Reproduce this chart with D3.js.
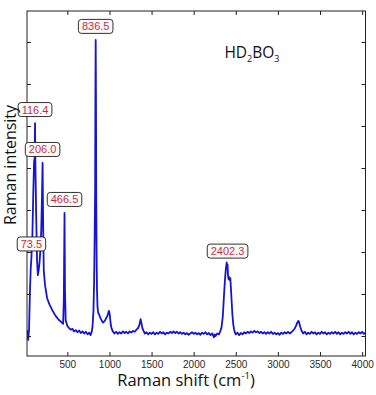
<!DOCTYPE html>
<html>
<head>
<meta charset="utf-8">
<script src="https://cdn.jsdelivr.net/npm/d3@7"></script>
<style>
  body { margin: 0; background: #fff; }
  svg { display: block; }
</style>
</head>
<body>
<svg id="chart"></svg>
<script>
var WIDTH = 376;
var HEIGHT = 395;

// Raman shift (cm-1) and intensity (arb. units)
var shift = [
  20, 35, 45, 55, 65, 73.5, 85, 95, 105, 112, 116.4, 120, 130, 140, 150, 160, 170, 180, 190, 198,
  206, 212, 220, 235, 260, 290, 320, 360, 400, 430, 450, 458, 466.5, 472, 480,
  500, 520, 540, 560, 580, 600, 620, 640, 660, 680, 700, 720, 740, 760, 775, 790,
  800, 810, 818, 825, 830, 833, 836.5, 840, 843, 848, 852, 858, 865, 875, 885, 895, 905, 915, 925,
  935, 945, 955, 965, 975, 985, 993, 1000, 1008, 1015, 1025, 1040, 1060, 1080, 1100, 1120, 1140,
  1160, 1180, 1200, 1220, 1240, 1260, 1280, 1300, 1320, 1340, 1355, 1370, 1380, 1392, 1405, 1420,
  1440, 1460, 1480, 1500, 1520, 1540, 1560, 1580, 1600, 1620, 1640, 1660, 1680, 1700, 1720, 1740,
  1760, 1780, 1800, 1820, 1840, 1860, 1880, 1900, 1920, 1940, 1960, 1980, 2000, 2020, 2040, 2060,
  2080, 2100, 2120, 2140, 2160, 2180, 2200, 2220, 2240, 2250, 2260, 2280, 2300, 2315, 2330, 2345,
  2358, 2370, 2382, 2392, 2397, 2402.3, 2407, 2415, 2422, 2428, 2435, 2442, 2450, 2460, 2470, 2480,
  2490, 2500, 2520, 2540, 2560, 2580, 2600, 2620, 2640, 2660, 2680, 2700, 2720, 2740, 2760, 2780,
  2800, 2820, 2840, 2860, 2880, 2900, 2920, 2940, 2960, 2980, 3000, 3020, 3040, 3060, 3080, 3100,
  3120, 3140, 3160, 3180, 3200, 3215, 3230, 3245, 3255, 3265, 3280, 3300, 3320, 3340, 3360, 3380,
  3400, 3420, 3440, 3460, 3480, 3500, 3520, 3540, 3560, 3580, 3600, 3620, 3640, 3660, 3680, 3700,
  3720, 3740, 3760, 3780, 3800, 3820, 3840, 3860, 3880, 3900, 3920, 3940, 3960, 3980, 4000, 4020, 4040
];
var intensity = [
  140, -95, 140, 980, 1600, 1870, 2400, 3360, 4140, 4240, 5070, 4190, 2880, 1810, 1450, 1570, 1760, 2050, 2520, 3240,
  4120, 2760, 1570, 1210, 900, 740, 620, 480, 380, 330, 290, 860, 2930, 1100, 380,
  240, 190, 150, 170, 110, 140, 90, 130, 70, 110, 60, 100, 40, 80, 20, 100,
  250, 600, 1300, 2500, 3500, 5700, 7050, 5600, 3300, 1800, 1100, 700, 560, 520, 470, 420, 380, 340, 320,
  340, 360, 400, 440, 480, 540, 600, 560, 420, 280, 180, 110, 60, 100, 50, 90, 60,
  110, 70, 100, 60, 110, 80, 120, 100, 150, 190, 260, 400, 300, 180, 120, 60,
  90, 40, 80, 50, 90, 40, 80, 50, 100, 60, 90, 40, 80, 60, 100, 70,
  110, 70, 100, 60, 90, 50, 80, 40, 70, 30, 60, 90, 50, 80, 40, 70,
  30, 80, 50, 90, 40, 70, 20, 60, -30, 40, 0, 60, 40, 110, 200, 450,
  900, 1300, 1600, 1750, 1650, 1700, 1450, 1350, 1400, 1330, 1380, 1150, 850, 500, 280, 150,
  80, 40, 80, 20, 70, 40, 90, 60, 100, 70, 110, 80, 120, 90, 110, 70,
  100, 60, 90, 50, 90, 60, 100, 50, 80, 40, 70, 30, 80, 50, 90, 60,
  100, 60, 90, 130, 180, 240, 320, 360, 300, 220, 130, 60, 100, 40, 80, 50,
  100, 60, 90, 40, 80, 50, 100, 60, 90, 40, 80, 50, 90, 60, 100, 50,
  90, 40, 80, 50, 90, 60, 100, 50, 90, 40, 80, 50, 90, 60, 100, 50, 80
];

// labelled peaks
var peakShift = [73.5, 116.4, 206.0, 466.5, 836.5, 2402.3];
var peakIntensity = [1870, 5070, 4120, 2930, 7050, 1700];

var xTicks = [500, 1000, 1500, 2000, 2500, 3000, 3500, 4000];
var yTicks = [0, 1000, 2000, 3000, 4000, 5000, 6000, 7000];

var margin = {top: 11, right: 10.5, bottom: 39, left: 27};
var innerW = WIDTH - margin.left - margin.right;
var innerH = HEIGHT - margin.top - margin.bottom;

var svg = d3.select("#chart")
    .attr("width", WIDTH)
    .attr("height", HEIGHT);

var x = d3.scaleLinear().domain([21, 4040]).range([0, innerW]);
var y = d3.scaleLinear().domain([-476, 7738]).range([innerH, 0]);

var g = svg.append("g")
    .attr("transform", "translate(" + margin.left + "," + margin.top + ")");

g.append("clipPath").attr("id", "clip")
  .append("rect").attr("width", innerW).attr("height", innerH);

var points = shift.map(function(s, i) { return [s, intensity[i]]; });

var line = d3.line()
    .x(function(d) { return x(d[0]); })
    .y(function(d) { return y(d[1]); });

g.append("path")
    .datum(points)
    .attr("clip-path", "url(#clip)")
    .attr("fill", "none")
    .attr("stroke", "#1414d2")
    .attr("stroke-width", 1.8)
    .attr("stroke-linejoin", "round")
    .attr("d", line);

// axes, ticks pointing inwards
var xAxis = g.append("g")
    .attr("transform", "translate(0," + innerH + ")")
    .call(d3.axisBottom(x).tickValues(xTicks).tickFormat(d3.format("d"))
        .tickSizeInner(-4).tickSizeOuter(0).tickPadding(5));
xAxis.selectAll("text")
    .attr("font-family", "'Liberation Sans', Arial, sans-serif")
    .attr("font-size", 10)
    .attr("fill", "#2a2a2a");

g.append("g")
    .call(d3.axisTop(x).tickValues(xTicks).tickSizeInner(-4).tickSizeOuter(0).tickFormat(""));
g.append("g")
    .call(d3.axisLeft(y).tickValues(yTicks).tickSizeInner(-4).tickSizeOuter(0).tickFormat(""));
g.append("g")
    .attr("transform", "translate(" + innerW + ",0)")
    .call(d3.axisRight(y).tickValues(yTicks).tickSizeInner(-4).tickSizeOuter(0).tickFormat(""));

g.selectAll(".domain").remove();
g.selectAll(".tick line").attr("stroke", "#222");

g.append("rect")
    .attr("width", innerW)
    .attr("height", innerH)
    .attr("fill", "none")
    .attr("stroke", "#222")
    .attr("stroke-width", 1);

// data tips
var tips = g.selectAll(".tip")
    .data(peakShift)
    .enter()
    .append("g")
    .attr("class", "tip")
    .attr("transform", function(d, i) {
        return "translate(" + x(d) + "," + (y(peakIntensity[i]) - 13.5) + ")";
    });

tips.append("text")
    .attr("text-anchor", "middle")
    .attr("dy", "0.36em")
    .attr("font-family", "'Liberation Sans', Arial, sans-serif")
    .attr("font-size", 11)
    .attr("fill", "#d02a3a")
    .text(function(d) { return d.toFixed(1); });

tips.insert("rect", "text")
    .each(function() {
        var bb = this.parentNode.querySelector("text").getBBox();
        d3.select(this)
            .attr("x", -bb.width / 2 - 3.5)
            .attr("y", -7)
            .attr("width", bb.width + 7)
            .attr("height", 14)
            .attr("rx", 3);
    })
    .attr("fill", "#fbfbfb")
    .attr("stroke", "#1a1a1a")
    .attr("stroke-width", 0.9);

// compound name
var title = g.append("text")
    .attr("x", x(2365))
    .attr("y", y(6620))
    .attr("font-family", "'Open Sans', sans-serif")
    .attr("font-size", 15.5)
    .attr("fill", "#111");
title.append("tspan").text("HD");
title.append("tspan").attr("font-size", 9).attr("dy", 4).text("2");
title.append("tspan").attr("dy", -4).text("BO");
title.append("tspan").attr("font-size", 9).attr("dy", 4).text("3");

// axis titles
var xl = svg.append("text")
    .attr("x", 186)
    .attr("y", 386)
    .attr("text-anchor", "middle")
    .attr("font-family", "'Open Sans', sans-serif")
    .attr("font-size", 16.5)
    .attr("fill", "#111");
xl.append("tspan").text("Raman shift (cm");
xl.append("tspan").attr("font-size", 9.5).attr("dy", -7).text("-1");
xl.append("tspan").attr("dy", 7).text(")");

svg.append("text")
    .attr("transform", "translate(16,165) rotate(-90)")
    .attr("text-anchor", "middle")
    .attr("font-family", "'Open Sans', sans-serif")
    .attr("font-size", 16)
    .attr("fill", "#111")
    .text("Raman intensity");
</script>
</body>
</html>
